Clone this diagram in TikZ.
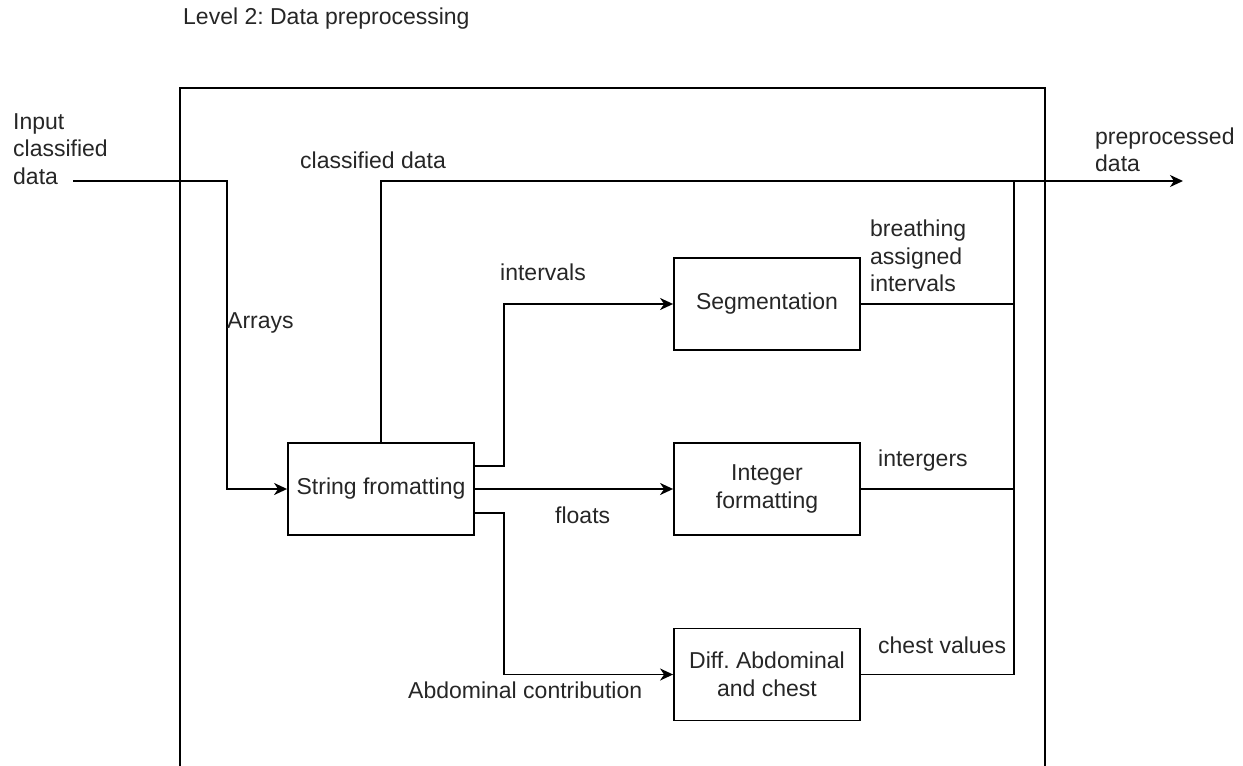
\documentclass[tikz,border=0pt]{standalone}
\usepackage{fontspec}
\setmainfont{Liberation Sans}
\usetikzlibrary{arrows.meta}
\frenchspacing
\begin{document}
\begin{tikzpicture}[x=1pt,y=-1pt,
  every node/.style={font=\fontsize{23}{27.5}\selectfont, text=black!85},
  lbl/.style={anchor=west, inner sep=0pt, align=left},
  procbox/.style={draw, line width=1.8pt, minimum width=186pt, minimum height=92pt, inner sep=2pt, align=center},
  wire/.style={line width=1.8pt},
  arr/.style={wire, -{Stealth[length=13pt,width=12pt,inset=4pt]}}]
\useasboundingbox (0,0) rectangle (1243,766);

% outer process frame (open at the bottom)
\draw[wire] (180,766) -- (180,88) -- (1045,88) -- (1045,766);

% title
\node[lbl] (title) at (183,19) {Level 2: Data preprocessing};

% process boxes
\node[procbox] (sf)   at (381,489)   {String fromatting};
\node[procbox] (seg)  at (767,304)   {Segmentation};
\node[procbox] (intf) at (767,489)   {Integer\\formatting};
\node[procbox] (diff) at (767,674.5) {Diff. Abdominal\\and chest};

% free ends and bus
\coordinate (inA)  at (73,181);
\coordinate (outA) at (1183,181);
\coordinate (bus)  at (1014,181);

% input
\draw[arr] (inA) -- (227,181) |- (sf.west);

% classified data bypass to output
\draw[arr] (sf.north) |- (outA);

% branches out of string formatting
\draw[arr] (474,466) -- (504,466) |- (seg.west);
\draw[arr] (sf.east) -- (intf.west);
\draw[arr] (474,513) -- (504,513) |- (diff.west);

% results merged onto the output bus
\draw[wire] (seg.east) -- (seg.east -| bus);
\draw[wire] (intf.east) -- (intf.east -| bus);
\draw[wire] (diff.east) -| (bus);

% labels
\node[lbl] (lin)   at (13,149)  {Input\\classified\\data};
\node[lbl] (lcd)   at (300,160) {classified data};
\node[lbl] (larr)  at (227,323) {Arrays};
\node[lbl] (liv)   at (500,272) {intervals};
\node[lbl] (lfl)   at (555,515) {floats};
\node[lbl] (lab)   at (408,690) {Abdominal contribution};
\node[lbl] (lbai)  at (870,256) {breathing\\assigned\\intervals};
\node[lbl] (lint)  at (878,461) {intergers};
\node[lbl] (lcv)   at (878,645) {chest values};
\node[lbl] (lpre)  at (1095,150) {preprocessed\\data};
\end{tikzpicture}
\end{document}
